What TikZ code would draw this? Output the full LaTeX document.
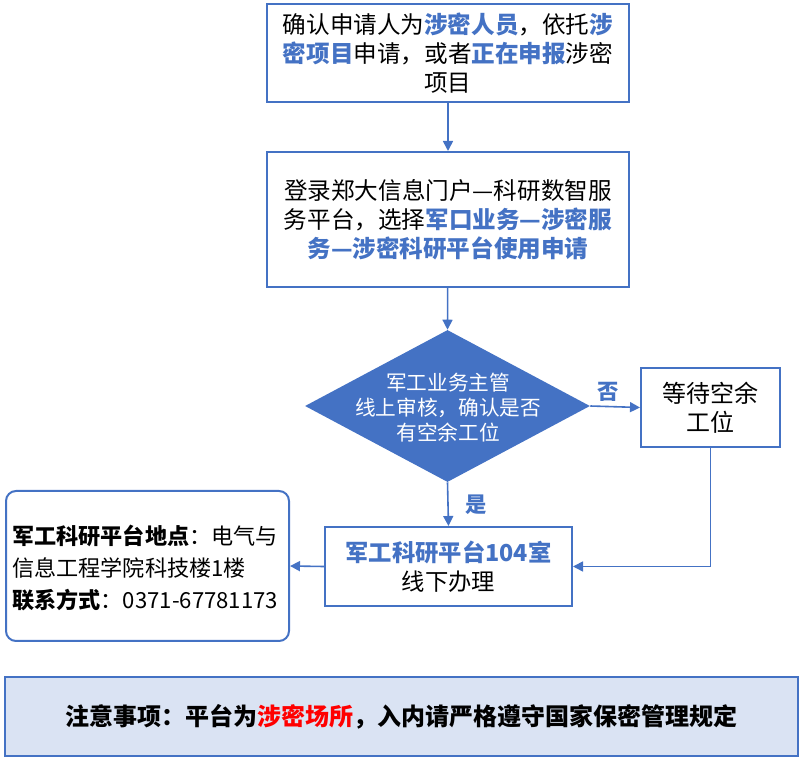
\documentclass[tikz,border=0pt]{standalone}
\usepackage{fontspec}
\setmainfont{Noto Sans CJK SC}
\usetikzlibrary{shapes.geometric,arrows.meta}
\definecolor{cblue}{HTML}{4472C4}
\definecolor{cfill}{HTML}{DAE3F3}
\definecolor{cred}{HTML}{FF0000}
\begin{document}
\begin{tikzpicture}[x=0.75pt,y=-0.75pt,
  stepbox/.style={draw=cblue,line width=1.5pt,fill=white,inner sep=0pt,align=center,text=black},
  conn/.style={draw=cblue,line width=1.2pt,-{Triangle[length=7.5pt,width=7.5pt]}},
  lab/.style={text=cblue,font=\fontsize{16}{18}\selectfont\bfseries}]
\useasboundingbox (0,0) rectangle (801,759);
\newcommand{\hb}[1]{\textcolor{cblue}{\bfseries #1}}
\node[stepbox,minimum width=271.5pt,minimum height=73.5pt,font=\fontsize{17.7}{21.75}\selectfont] (b1) at (448,53)
  {确认申请人为\hb{涉密人员}，依托\hb{涉}\\\hb{密项目}申请，或者\hb{正在申报}涉密\\项目};
\node[stepbox,minimum width=271.5pt,minimum height=101.25pt,font=\fontsize{17.7}{21.75}\selectfont] (b2) at (448,219.5)
  {登录郑大信息门户—科研数智服\\务平台，选择\hb{军口业务—涉密服}\\\hb{务—涉密科研平台使用申请}};
\node[diamond,fill=cblue,draw=none,minimum width=213.75pt,minimum height=114pt,inner sep=0pt] (d) at (447.5,406) {};
\node[text=white,align=center,font=\fontsize{15.5}{18.75}\selectfont] (dt) at (448,408) {军工业务主管\\线上审核，确认是否\\有空余工位};
\node[stepbox,minimum width=104.25pt,minimum height=59.25pt,font=\fontsize{18}{21.75}\selectfont] (w) at (710.5,407.5) {等待空余\\工位};
\node[stepbox,minimum width=185.25pt,minimum height=59.25pt,font=\fontsize{17.5}{21.75}\selectfont] (p) at (448.5,566.5)
  {\hb{军工科研平台104室}\\线下办理};
\node[draw=cblue,line width=1.5pt,rounded corners=7.5pt,minimum width=212.25pt,minimum height=112.5pt,inner sep=0pt] (info) at (147.5,566) {};
\node[anchor=west,align=left,inner sep=0pt,font=\fontsize{16.6}{24}\selectfont] (it) at (12,568)
  {\textbf{军工科研平台地点}：电气与\\信息工程学院科技楼1楼\\\textbf{联系方式}：0371-67781173};
\node[draw=cblue,line width=1.5pt,fill=cfill,minimum width=594.75pt,minimum height=59.25pt,inner sep=0pt,font=\fontsize{18}{22}\selectfont\bfseries] (note) at (401.5,716.5)
  {注意事项：平台为\textcolor{cred}{涉密场所}，入内请严格遵守国家保密管理规定};
\draw[conn] (b1) -- (b2);
\draw[conn] (b2) -- (d.north);
\draw[conn] (d.east) -- (w.west);
\draw[conn] (d.south) -- (p.north);
\draw[conn] (w.south) |- (p.east);
\draw[conn] (p.west) -- (info.east);
\node[lab] (no) at (608,392) {否};
\node[lab] (yes) at (476,505) {是};
\end{tikzpicture}
\end{document}
